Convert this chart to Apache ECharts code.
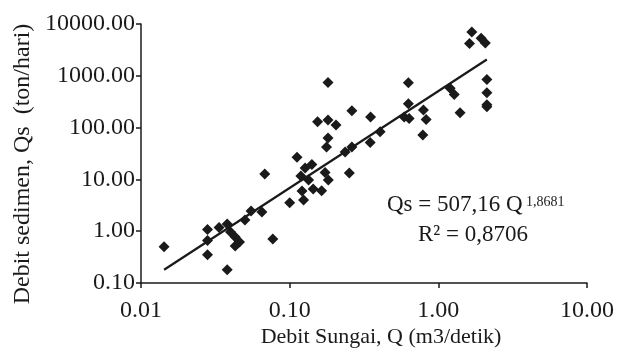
<!DOCTYPE html>
<html>
<head>
<meta charset="utf-8">
<script src="https://cdn.jsdelivr.net/npm/echarts@6/dist/echarts.min.js"></script>
<style>
  html, body { margin: 0; padding: 0; background: #fff; }
  #chart { width: 624px; height: 354px; }
</style>
</head>
<body>
<div id="chart"></div>
<script>
// debit sungai Q (m3/detik) and debit sedimen Qs (ton/hari)
const debitSungai = [
  0.0143, 0.028, 0.028, 0.028, 0.038, 0.0335, 0.038, 0.040, 0.043, 0.046,
  0.043, 0.050, 0.055, 0.065, 0.077, 0.068, 0.100, 0.124, 0.121, 0.112,
  0.141, 0.119, 0.134, 0.144, 0.164, 0.173, 0.182, 0.252, 0.177, 0.181,
  0.236, 0.262, 0.348, 0.406, 0.181, 0.154, 0.181, 0.205, 0.262, 0.35,
  0.589, 0.636, 0.629, 0.629, 0.794, 0.828, 0.786, 1.20, 1.28, 1.40,
  1.68, 1.62, 1.94, 2.07, 2.12, 2.12, 2.12, 2.12, 0.127
];
const debitSedimen = [
  0.50, 1.08, 0.66, 0.35, 0.18, 1.18, 1.38, 0.97, 0.77, 0.62,
  0.52, 1.65, 2.45, 2.35, 0.71, 12.7, 3.55, 4.0, 6.0, 26.7,
  19.4, 11.6, 9.7, 6.5, 6.05, 13.6, 9.7, 13.3, 42, 63,
  33.8, 42, 51.5, 83, 740, 130, 140, 112, 212, 160,
  160, 150, 290, 736, 219, 143, 72, 574, 435, 194,
  7000, 4200, 5300, 4300, 850, 470, 253, 275, 16.6
];

// power trendline ends (straight on log-log)
const trendQ = [0.0143, 2.12];
const trendQs = [0.18, 2060];

const xAxisTitle = 'Debit Sungai, Q (m3/detik)';
const yAxisTitle = 'Debit sedimen, Qs  (ton/hari)';
const eqText = 'Qs = 507,16 Q';
const eqExp = '1,8681';
const r2Text = 'R² = 0,8706';

const FONT = '"Liberation Serif", "Times New Roman", serif';
const INK = '#1a1a1a';

const chart = echarts.init(document.getElementById('chart'));

const points = debitSungai.map((q, i) => [q, debitSedimen[i]]);
const trend = trendQ.map((q, i) => [q, trendQs[i]]);

const axisCommon = {
  type: 'log',
  logBase: 10,
  axisLine: { show: true, lineStyle: { color: INK, width: 1.5 } },
  axisTick: { show: true, inside: false, length: 5, lineStyle: { color: INK, width: 1.5 } },
  axisLabel: {
    fontFamily: FONT,
    fontSize: 24,
    color: INK,
    formatter: v => Number(v).toFixed(2)
  },
  splitLine: { show: false },
  minorTick: { show: false }
};

chart.setOption({
  animation: false,
  backgroundColor: '#fff',
  grid: {
    left: 141, right: 37, top: 24, bottom: 71,
    containLabel: false,
    outerBoundsMode: 'none'
  },
  xAxis: Object.assign({}, axisCommon, {
    min: 0.01, max: 10,
    axisLabel: Object.assign({}, axisCommon.axisLabel, { margin: 16 })
  }),
  yAxis: Object.assign({}, axisCommon, {
    min: 0.1, max: 10000,
    axisLabel: Object.assign({}, axisCommon.axisLabel, { margin: 6 })
  }),
  series: [
    {
      type: 'line',
      data: trend,
      showSymbol: false,
      lineStyle: { color: INK, width: 2.2 },
      z: 3
    },
    {
      type: 'scatter',
      data: points,
      symbol: 'diamond',
      symbolSize: 11,
      itemStyle: { color: INK, opacity: 1 },
      z: 4
    }
  ],
  graphic: [
    {
      type: 'text', x: 381, y: 337,
      style: { text: xAxisTitle, font: '22px ' + FONT, fill: INK, align: 'center', verticalAlign: 'middle' }
    },
    {
      type: 'text', x: 23, y: 164, rotation: Math.PI / 2,
      style: { text: yAxisTitle, font: '24px ' + FONT, fill: INK, align: 'center', verticalAlign: 'middle' }
    },
    {
      type: 'text', x: 387, y: 193,
      style: { text: eqText, font: '23px ' + FONT, fill: INK }
    },
    {
      type: 'text', x: 526, y: 195,
      style: { text: eqExp, font: '14px ' + FONT, fill: INK }
    },
    {
      type: 'text', x: 418, y: 223,
      style: { text: r2Text, font: '23px ' + FONT, fill: INK }
    }
  ]
});

window.addEventListener('resize', () => chart.resize());
</script>
</body>
</html>
